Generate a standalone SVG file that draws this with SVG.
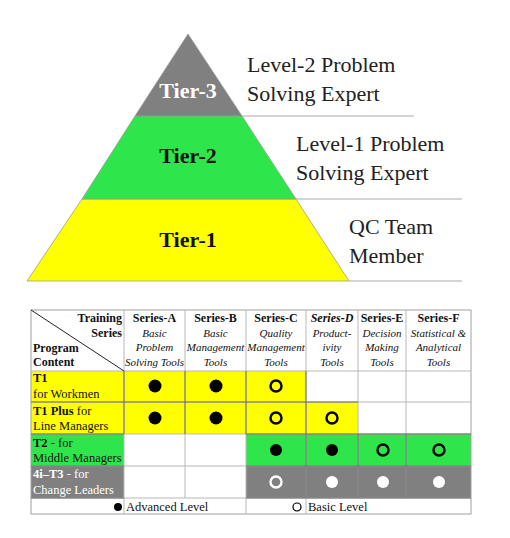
<svg xmlns="http://www.w3.org/2000/svg" width="510" height="538" viewBox="0 0 510 538">
<style>
text{font-family:"Liberation Serif","Times New Roman",serif;fill:#111}
.tier{font-size:22px;font-weight:bold;text-anchor:middle}
.lab{font-size:22px;fill:#222}
.hb{font-size:12px;font-weight:bold}
.hi{font-size:11px;font-style:italic;text-anchor:middle}
.rl{font-size:12.5px}
.sep{stroke:#aaa;stroke-width:1.2}
.g{stroke:#b8b8b8;stroke-width:1;fill:none}
.gd{stroke:#6e6e6e;stroke-width:1;fill:none}
.dot{fill:#000}
.ring{fill:none;stroke:#000;stroke-width:2.4}
</style>
<rect width="510" height="538" fill="#fff"/>
<g id="pyramid">
<g id="tier1"><polygon points="82,199 296,199 349,281 27,281" fill="#ffff00" stroke="#9a9a9a" stroke-width="0.8"/><text class="tier" x="188" y="247">Tier-1</text></g>
<g id="tier2"><polygon points="135,116 242,116 296,199 82,199" fill="#2ee64c" stroke="#9a9a9a" stroke-width="0.8"/><text class="tier" x="188" y="163">Tier-2</text></g>
<g id="tier3"><polygon points="188,34 242,116 135,116" fill="#808080" stroke="#9a9a9a" stroke-width="0.8"/><text class="tier" x="188" y="98" style="fill:#fff">Tier-3</text></g>
</g>
<g id="separators">
<line class="sep" x1="242" y1="116" x2="414" y2="116"/>
<line class="sep" x1="296" y1="199" x2="462" y2="199"/>
<line class="sep" x1="349" y1="281" x2="462" y2="281"/>
</g>
<g id="labels">
<g id="label-tier3"><text class="lab" x="247" y="72">Level-2 Problem</text><text class="lab" x="247" y="101">Solving Expert</text></g>
<g id="label-tier2"><text class="lab" x="296" y="151">Level-1 Problem</text><text class="lab" x="296" y="180">Solving Expert</text></g>
<g id="label-tier1"><text class="lab" x="349" y="234">QC Team</text><text class="lab" x="349" y="263">Member</text></g>
</g>
<g id="table">
<g id="fills">
<rect x="31" y="371" width="275" height="31" fill="#ffff00"/>
<rect x="31" y="402" width="327" height="32" fill="#ffff00"/>
<rect x="31" y="434" width="93" height="32" fill="#2ee64c"/>
<rect x="246" y="434" width="225" height="32" fill="#2ee64c"/>
<rect x="31" y="466" width="93" height="32" fill="#808080"/>
<rect x="246" y="466" width="225" height="32" fill="#808080"/>
</g>
<g id="grid">
<rect class="g" x="31" y="310" width="440" height="204" style="stroke:#a0a0a0"/>
<path class="g" d="M124 310V514M185 310V498M246 310V514M306 310V514M358 310V498M406 310V498M31 371H471M31 402H471M31 434H471M31 466H471M31 498H471"/>
<path class="gd" d="M31 402H358M124 371V434M185 371V434M246 371V434M306 371V434M31 434H124M246 434H471M306 434V498M358 434V498M406 434V498M246 466H471M246 498H471M31 466H124M31 498H124"/>
<line x1="31" y1="310" x2="124" y2="371" stroke="#222" stroke-width="1"/>
</g>
<g id="header">
<text class="hb" x="122" y="322" text-anchor="end">Training</text>
<text class="hb" x="122" y="337" text-anchor="end">Series</text>
<text class="hb" x="33" y="352">Program</text>
<text class="hb" x="33" y="366">Content</text>
<text class="hb" x="154.5" y="322" text-anchor="middle">Series-A</text>
<text class="hi" x="154.5" y="337">Basic</text><text class="hi" x="154.5" y="351">Problem</text><text class="hi" x="154.5" y="366">Solving Tools</text>
<text class="hb" x="215.5" y="322" text-anchor="middle">Series-B</text>
<text class="hi" x="215.5" y="337">Basic</text><text class="hi" x="215.5" y="351">Management</text><text class="hi" x="215.5" y="366">Tools</text>
<text class="hb" x="276" y="322" text-anchor="middle">Series-C</text>
<text class="hi" x="276" y="337">Quality</text><text class="hi" x="276" y="351">Management</text><text class="hi" x="276" y="366">Tools</text>
<text class="hb" x="332" y="322" text-anchor="middle" font-style="italic">Series-D</text>
<text class="hi" x="332" y="337">Product-</text><text class="hi" x="332" y="351">ivity</text><text class="hi" x="332" y="366">Tools</text>
<text class="hb" x="382" y="322" text-anchor="middle">Series-E</text>
<text class="hi" x="382" y="337">Decision</text><text class="hi" x="382" y="351">Making</text><text class="hi" x="382" y="366">Tools</text>
<text class="hb" x="438.5" y="322" text-anchor="middle">Series-F</text>
<text class="hi" x="438.5" y="337">Statistical &amp;</text><text class="hi" x="438.5" y="351">Analytical</text><text class="hi" x="438.5" y="366">Tools</text>
</g>
<g id="row-t1">
<text class="rl" x="33" y="382" font-weight="bold">T1</text>
<text class="rl" x="33" y="398">for Workmen</text>
<circle class="dot" cx="155" cy="386" r="6.5"/><circle class="dot" cx="216" cy="386" r="6.5"/><circle class="ring" cx="276" cy="386" r="5.5"/>
</g>
<g id="row-t1plus">
<text class="rl" x="33" y="415"><tspan font-weight="bold">T1 Plus</tspan> for</text>
<text class="rl" x="33" y="430">Line Managers</text>
<circle class="dot" cx="155" cy="418" r="6.5"/><circle class="dot" cx="216" cy="418" r="6.5"/><circle class="ring" cx="276" cy="418" r="5.5"/><circle class="ring" cx="332" cy="418" r="5.5"/>
</g>
<g id="row-t2">
<text class="rl" x="33" y="447"><tspan font-weight="bold">T2</tspan> - for</text>
<text class="rl" x="33" y="462">Middle Managers</text>
<circle class="dot" cx="276" cy="450" r="6"/><circle class="dot" cx="332" cy="450" r="6"/><circle class="ring" cx="383" cy="450" r="5.5"/><circle class="ring" cx="439" cy="450" r="5.5"/>
</g>
<g id="row-t3">
<text class="rl" x="33" y="478" style="fill:#fff"><tspan font-weight="bold">4i–T3</tspan> - for</text>
<text class="rl" x="33" y="494" style="fill:#fff">Change Leaders</text>
<circle class="ring" cx="276" cy="482" r="5.5" style="stroke:#fff"/><circle cx="332" cy="482" r="6" fill="#fff"/><circle cx="383" cy="482" r="6" fill="#fff"/><circle cx="439" cy="482" r="6" fill="#fff"/>
</g>
<g id="legend">
<circle cx="118" cy="507" r="4" fill="#000"/>
<text class="rl" x="126" y="511">Advanced Level</text>
<circle cx="297" cy="507" r="4" fill="none" stroke="#000" stroke-width="1.2"/>
<text class="rl" x="308" y="511">Basic Level</text>
</g>
</g>
</svg>
